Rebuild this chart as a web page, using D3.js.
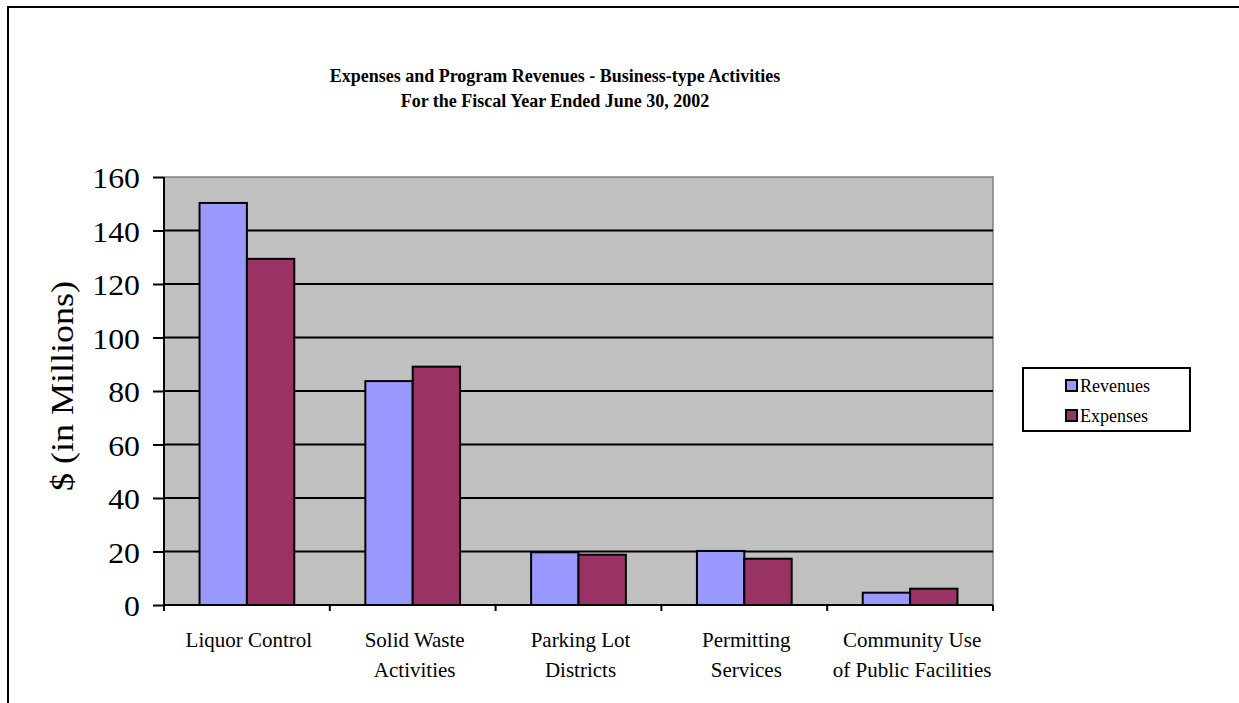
<!DOCTYPE html>
<html>
<head>
<meta charset="utf-8">
<script src="https://cdn.jsdelivr.net/npm/d3@7"></script>
<style>
  body { margin: 0; background: #fff; }
  svg { display: block; }
  text { font-family: "Liberation Serif", "Times New Roman", serif; fill: #000; }
</style>
</head>
<body>
<svg id="chart" width="1239" height="703"></svg>
<script>
// Business-type activities, fiscal year ended June 30, 2002 ($ millions)
const categories = [
  ["Liquor Control"],
  ["Solid Waste", "Activities"],
  ["Parking Lot", "Districts"],
  ["Permitting", "Services"],
  ["Community Use", "of Public Facilities"]
];
const revenues = [150.3, 83.7, 19.7, 20.2, 4.6];
const expenses = [129.4, 89.1, 18.8, 17.3, 6.1];
const seriesNames = ["Revenues", "Expenses"];
const seriesColors = ["#9999ff", "#993366"];
const yTicks = [0, 20, 40, 60, 80, 100, 120, 140, 160];

const svg = d3.select("#chart");
const serif = '"Liberation Serif", "Times New Roman", serif';

// outer chart frame (runs past the right and bottom edges)
svg.append("rect")
  .attr("x", 8).attr("y", 7).attr("width", 1260).attr("height", 720)
  .attr("fill", "none").attr("stroke", "#000").attr("stroke-width", 2);

const plot = { left: 164, right: 993, top: 177, bottom: 605 };

const x = d3.scaleBand()
  .domain(d3.range(categories.length))
  .range([plot.left, plot.right]);
const y = d3.scaleLinear().domain([0, 160]).range([plot.bottom, plot.top]);

// plot background
svg.append("rect")
  .attr("x", plot.left).attr("y", plot.top)
  .attr("width", plot.right - plot.left).attr("height", plot.bottom - plot.top)
  .attr("fill", "#c0c0c0");
// top/right edges of plot area
svg.append("path")
  .attr("d", `M${plot.left},${plot.top}H${plot.right}V${plot.bottom}`)
  .attr("fill", "none").attr("stroke", "#808080").attr("stroke-width", 1.5);

// gridlines
svg.append("g").selectAll("line")
  .data(yTicks.filter(d => d > 0 && d < 160))
  .join("line")
  .attr("x1", plot.left).attr("x2", plot.right)
  .attr("y1", d => y(d)).attr("y2", d => y(d))
  .attr("stroke", "#000").attr("stroke-width", 2);

// bars
const barW = x.bandwidth() / 3.5;
const groups = [revenues, expenses];
groups.forEach((vals, s) => {
  svg.append("g").selectAll("rect")
    .data(vals)
    .join("rect")
    .attr("x", (d, i) => x(i) + x.bandwidth() / 2 - barW + s * barW)
    .attr("y", d => y(d))
    .attr("width", barW)
    .attr("height", d => y(0) - y(d))
    .attr("fill", seriesColors[s])
    .attr("stroke", "#000").attr("stroke-width", 2);
});

// y axis
const yAxis = d3.axisLeft(y).tickValues(yTicks).tickSize(11).tickPadding(13);
const gy = svg.append("g").attr("transform", `translate(${plot.left},0)`).call(yAxis);
gy.select(".domain").attr("stroke", "#000").attr("stroke-width", 2)
  .attr("d", `M0,${plot.top}V${plot.bottom}`);
gy.selectAll(".tick line").attr("stroke", "#000").attr("stroke-width", 2);
gy.selectAll(".tick text")
  .style("font-family", serif)
  .style("font-size", "30px").attr("fill", "#000").attr("dy", "0.36em")
  .each(function () {
    const w = this.getComputedTextLength();
    d3.select(this).attr("textLength", w * 1.06).attr("lengthAdjust", "spacingAndGlyphs");
  });

// x axis
const xEdges = d3.range(categories.length + 1).map(i => plot.left + i * x.step());
svg.append("line")
  .attr("x1", plot.left).attr("x2", plot.right)
  .attr("y1", plot.bottom).attr("y2", plot.bottom)
  .attr("stroke", "#000").attr("stroke-width", 2);
svg.append("g").selectAll("line")
  .data(xEdges).join("line")
  .attr("x1", d => d).attr("x2", d => d)
  .attr("y1", plot.bottom).attr("y2", plot.bottom + 6)
  .attr("stroke", "#000").attr("stroke-width", 2);

const xl = svg.append("g").selectAll("text")
  .data(categories).join("text")
  .attr("x", (d, i) => x(i) + x.bandwidth() / 2 + 2)
  .attr("y", 647)
  .attr("text-anchor", "middle")
  .style("font-size", "21px");
xl.selectAll("tspan")
  .data(d => d).join("tspan")
  .attr("x", function () { return d3.select(this.parentNode).attr("x"); })
  .attr("dy", (d, i) => i === 0 ? 0 : 30)
  .text(d => d);

// y axis title
svg.append("text")
  .attr("transform", `translate(73,386) rotate(-90)`)
  .attr("text-anchor", "middle")
  .style("font-size", "31px")
  .attr("textLength", 210).attr("lengthAdjust", "spacingAndGlyphs")
  .text("$ (in Millions)");

// title
const title = svg.append("text")
  .attr("x", 555).attr("y", 82)
  .attr("text-anchor", "middle")
  .style("font-size", "18px").style("font-weight", "bold");
title.append("tspan").attr("x", 555).text("Expenses and Program Revenues - Business-type Activities");
title.append("tspan").attr("x", 555).attr("dy", 25).text("For the Fiscal Year Ended June 30, 2002");

// legend
const lg = svg.append("g").attr("transform", "translate(1023,368)");
lg.append("rect").attr("width", 167).attr("height", 63)
  .attr("fill", "#fff").attr("stroke", "#000").attr("stroke-width", 2);
seriesNames.forEach((name, i) => {
  lg.append("rect")
    .attr("x", 43).attr("y", 12 + i * 30)
    .attr("width", 11).attr("height", 11)
    .attr("fill", seriesColors[i]).attr("stroke", "#000").attr("stroke-width", 2);
  lg.append("text")
    .attr("x", 57).attr("y", 24 + i * 30)
    .style("font-size", "18px")
    .text(name);
});
</script>
</body>
</html>
